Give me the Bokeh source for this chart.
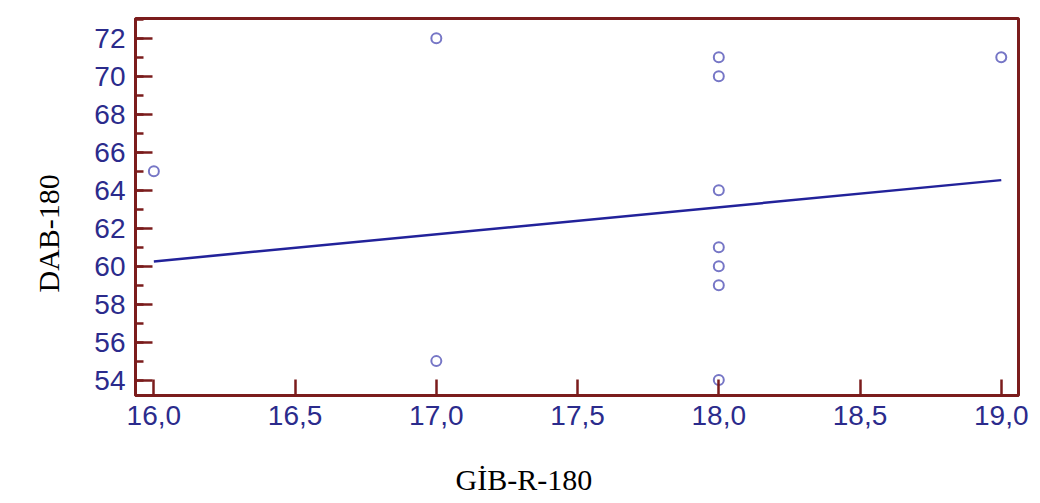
from bokeh.plotting import figure
from bokeh.models import (SingleIntervalTicker, CustomJSTickFormatter, Range1d, Title,
                          ColumnDataSource)
from bokeh.embed import file_html
from bokeh.resources import INLINE

# Data
gib_r_180 = [16, 17, 17, 18, 18, 18, 18, 18, 18, 18, 19]
dab_180 = [65, 72, 55, 71, 70, 64, 61, 60, 59, 54, 71]
fit_x = [16.0, 19.0]
fit_y = [60.25, 64.53]
x_label = "GİB-R-180"
y_label = "DAB-180"

FRAME = "#7b1c1c"
TICKTXT = "#2b2b8c"

p = figure(width=1040, height=503, output_backend="svg", toolbar_location=None,
           x_range=Range1d(15.935, 19.061), y_range=Range1d(53.19, 73.04),
           min_border_left=135, min_border_right=22, min_border_top=18, min_border_bottom=108)
p.background_fill_color = "white"
p.border_fill_color = "white"
p.outline_line_color = FRAME
p.outline_line_width = 3
p.xgrid.visible = False
p.ygrid.visible = False

p.xaxis.ticker = SingleIntervalTicker(interval=0.5, num_minor_ticks=0)
p.yaxis.ticker = SingleIntervalTicker(interval=2, num_minor_ticks=2)
p.xaxis.formatter = CustomJSTickFormatter(code="return tick.toFixed(1).replace('.', ',');")

for ax in (p.xaxis, p.yaxis):
    ax.axis_line_color = FRAME
    ax.axis_line_width = 3
    ax.major_tick_line_color = FRAME
    ax.major_tick_line_width = 2.5
    ax.minor_tick_line_color = FRAME
    ax.minor_tick_line_width = 2.5
    ax.major_tick_out = 0
    ax.minor_tick_out = 0
    ax.major_label_text_font = "Liberation Sans"
    ax.major_label_text_font_size = "28px"
    ax.major_label_text_color = TICKTXT

p.xaxis.major_tick_in = 16
p.xaxis.minor_tick_in = 0
p.yaxis.major_tick_in = 17
p.yaxis.minor_tick_in = 8
p.xaxis.major_label_standoff = 10
p.yaxis.major_label_standoff = 10

# tiny invisible axis label used only as vertical spacing before the x title
p.xaxis.axis_label = "\u00a0"
p.xaxis.axis_label_text_font_size = "1px"
p.xaxis.axis_label_standoff = 29

p.line(fit_x, fit_y, line_color="#22229a", line_width=2.5)
src = ColumnDataSource(dict(x=gib_r_180, y=dab_180))
p.scatter("x", "y", source=src, size=10, fill_color=None, line_color="#7676c6", line_width=2)

p.add_layout(Title(text=x_label, align="left", offset=320, standoff=0,
                   text_font="Liberation Serif", text_font_size="30px",
                   text_font_style="normal", text_color="black"), "below")
p.add_layout(Title(text=y_label, align="left", offset=103, standoff=54,
                   text_font="Liberation Serif", text_font_size="30px",
                   text_font_style="normal", text_color="black"), "left")

open("out.html", "w").write(file_html(p, INLINE))
